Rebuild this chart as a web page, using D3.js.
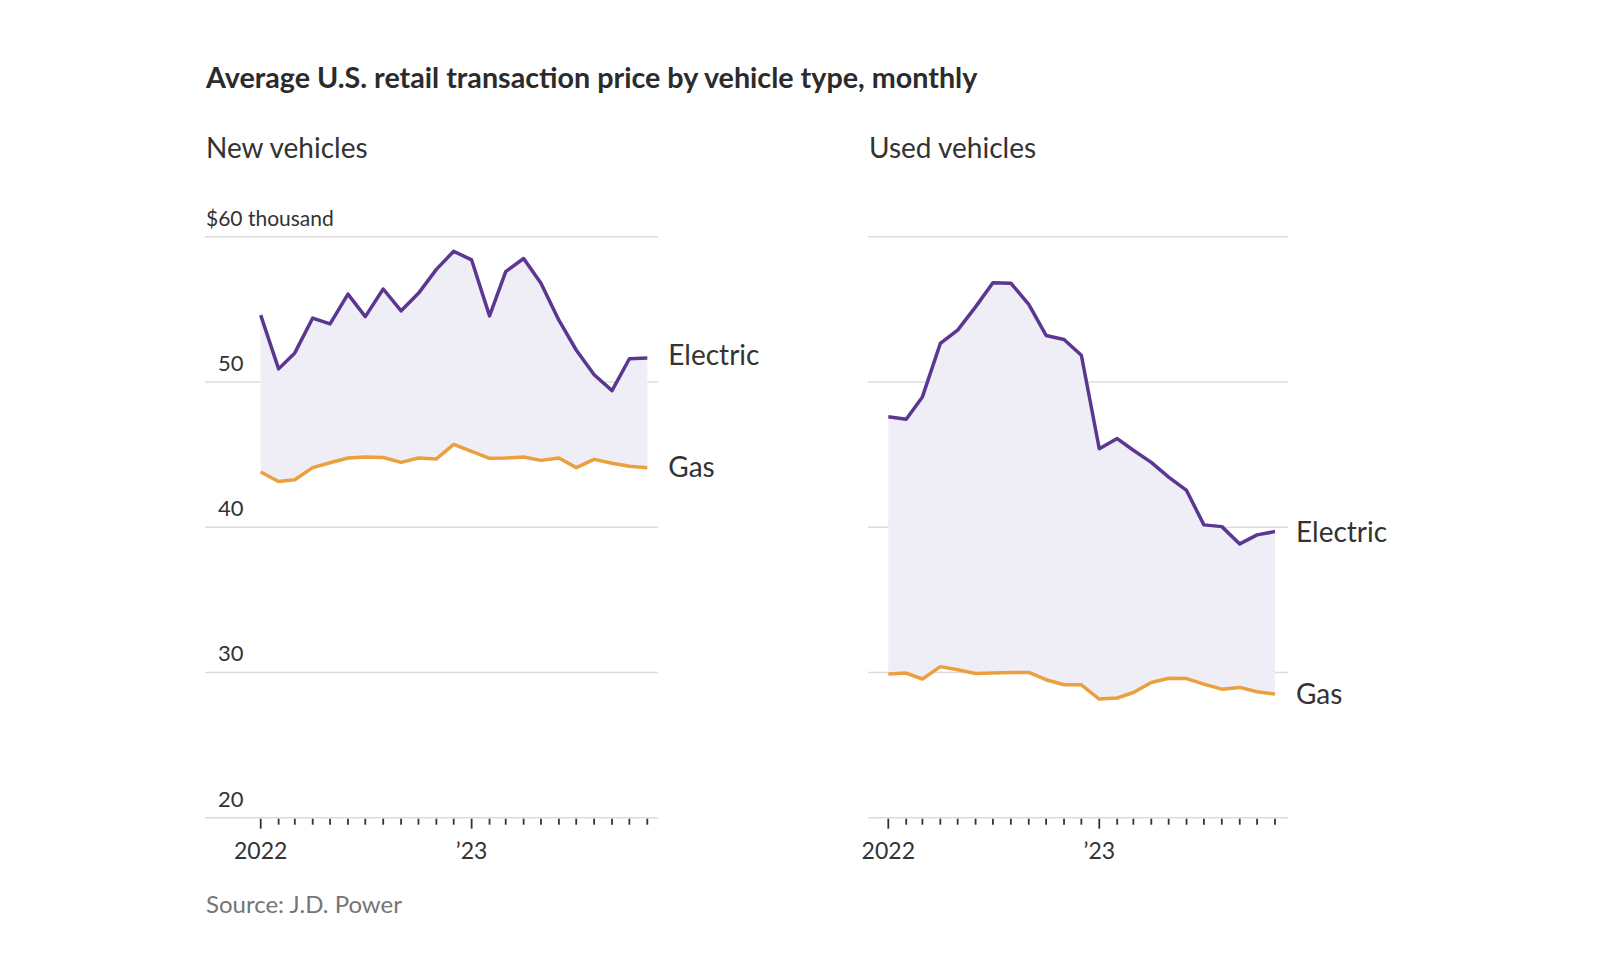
<!DOCTYPE html>
<html>
<head>
<meta charset="utf-8">
<script src="https://cdn.jsdelivr.net/npm/d3@7"></script>
<style>
  html, body { margin: 0; padding: 0; background: #fff; }
  svg { display: block; }
  text { font-family: Lato, "Open Sans", sans-serif; fill: #333; }
</style>
</head>
<body>
<svg id="chart" width="1599" height="971"></svg>
<script>
// ---- Data (thousands of dollars), monthly Jan 2022 – Nov 2023 ----
const months = d3.range(23).map(i => new Date(Date.UTC(2022, i, 1)));

const newElectric = [54.6, 50.9, 52.0, 54.4, 54.0, 56.05, 54.5, 56.4, 54.9, 56.1, 57.75, 59.0,
                     58.4, 54.55, 57.6, 58.5, 56.8, 54.25, 52.2, 50.5, 49.4, 51.6, 51.65];
const newGas = [43.8, 43.15, 43.27, 44.1, 44.44, 44.76, 44.83, 44.8, 44.46, 44.76, 44.7, 45.7,
                45.22, 44.74, 44.76, 44.83, 44.6, 44.76, 44.1, 44.67, 44.4, 44.19, 44.1];
const usedElectric = [47.6, 47.43, 48.97, 52.65, 53.57, 55.17, 56.83, 56.8, 55.34, 53.2, 52.92, 51.84,
                      45.4, 46.1, 45.3, 44.46, 43.45, 42.53, 40.16, 40.04, 38.85, 39.47, 39.7];
const usedGas = [29.9, 29.96, 29.55, 30.4, 30.19, 29.93, 29.97, 30.0, 30.0, 29.5, 29.15, 29.15,
                 28.17, 28.24, 28.62, 29.31, 29.6, 29.58, 29.2, 28.85, 28.97, 28.67, 28.51];

const yTicks = [20, 30, 40, 50, 60];
const yTickLabels = ["20", "30", "40", "50", "$60 thousand"];
const xTickLabels = { "2022-01": "2022", "2023-01": "\u201923" };

const titleText = "Average U.S. retail transaction price by vehicle type, monthly";
const panelTitles = ["New vehicles", "Used vehicles"];
const seriesNames = ["Electric", "Gas"];
const sourceText = "Source: J.D. Power";

// ---- Styles ----
const purple = "#5b3791";
const orange = "#eaa03c";
const fillColor = "#efeef7";
const gridColor = "#dcdcdc";

const svg = d3.select("#chart");

svg.append("text")
  .attr("x", 206).attr("y", 88)
  .style("font-size", "28.7px").style("font-weight", 700)
  .style("fill", "#2b2b2b")
  .text(titleText);

svg.append("text")
  .attr("x", 206).attr("y", 913)
  .style("font-size", "24px").style("fill", "#757575")
  .text(sourceText);

const y = d3.scaleLinear().domain([20, 60]).range([817.7, 236.7]);

const panels = [
  { title: panelTitles[0], elec: newElectric, gas: newGas, gx0: 205, gx1: 658, x0: 260.7, x1: 647.3, labels: true, tx: 206, eDy: -3 },
  { title: panelTitles[1], elec: usedElectric, gas: usedGas, gx0: 868, gx1: 1288, x0: 888.3, x1: 1275, labels: false, tx: 869, eDy: 1 }
];

panels.forEach(p => {
  const g = svg.append("g");
  const x = d3.scaleUtc().domain([months[0], months[months.length - 1]]).range([p.x0, p.x1]);

  g.append("text")
    .attr("x", p.tx).attr("y", 158)
    .style("font-size", "28px").style("font-weight", 400).style("fill", "#333")
    .text(p.title);

  // gridlines
  g.selectAll("line.grid").data(yTicks).join("line")
    .attr("class", "grid")
    .attr("x1", p.gx0).attr("x2", p.gx1)
    .attr("y1", d => y(d)).attr("y2", d => y(d))
    .attr("stroke", gridColor).attr("stroke-width", 1.5);

  if (p.labels) {
    g.selectAll("text.ylab").data(yTicks).join("text")
      .attr("class", "ylab")
      .attr("x", (d, i) => d === 60 ? 206 : 218)
      .attr("y", d => y(d) - 11)
      .style("font-size", (d) => d === 60 ? "21px" : "22px").style("fill", "#333")
      .text((d, i) => yTickLabels[i]);
  }

  const rows = months.map((m, i) => ({ m, e: p.elec[i], g: p.gas[i] }));

  // fill between
  g.append("path")
    .datum(rows)
    .attr("fill", fillColor)
    .attr("d", d3.area().x(d => x(d.m)).y0(d => y(d.g)).y1(d => y(d.e)));

  // lines
  g.append("path").datum(rows)
    .attr("fill", "none").attr("stroke", orange).attr("stroke-width", 3.5)
    .attr("stroke-linejoin", "round")
    .attr("d", d3.line().x(d => x(d.m)).y(d => y(d.g)));
  g.append("path").datum(rows)
    .attr("fill", "none").attr("stroke", purple).attr("stroke-width", 3.5)
    .attr("stroke-linejoin", "round")
    .attr("d", d3.line().x(d => x(d.m)).y(d => y(d.e)));

  // x axis ticks
  const fmt = d3.utcFormat("%Y-%m");
  g.selectAll("line.tick").data(months).join("line")
    .attr("class", "tick")
    .attr("x1", d => x(d)).attr("x2", d => x(d))
    .attr("y1", y(20) + 1)
    .attr("y2", d => y(20) + (xTickLabels[fmt(d)] ? 11 : 7))
    .attr("stroke", "#333").attr("stroke-width", 1.8);

  g.selectAll("text.xlab").data(months.filter(d => xTickLabels[fmt(d)])).join("text")
    .attr("class", "xlab")
    .attr("x", d => x(d)).attr("y", 859)
    .attr("text-anchor", "middle")
    .style("font-size", "23px").style("fill", "#333")
    .text(d => xTickLabels[fmt(d)]);

  // end labels
  const last = rows[rows.length - 1];
  g.append("text")
    .attr("x", x(last.m) + 21).attr("y", y(last.e) + p.eDy).attr("dy", "0.35em")
    .style("font-size", "28px").style("fill", "#333")
    .text(seriesNames[0]);
  g.append("text")
    .attr("x", x(last.m) + 21).attr("y", y(last.g)).attr("dy", "0.35em")
    .style("font-size", "28px").style("fill", "#333")
    .text(seriesNames[1]);
});
</script>
</body>
</html>
